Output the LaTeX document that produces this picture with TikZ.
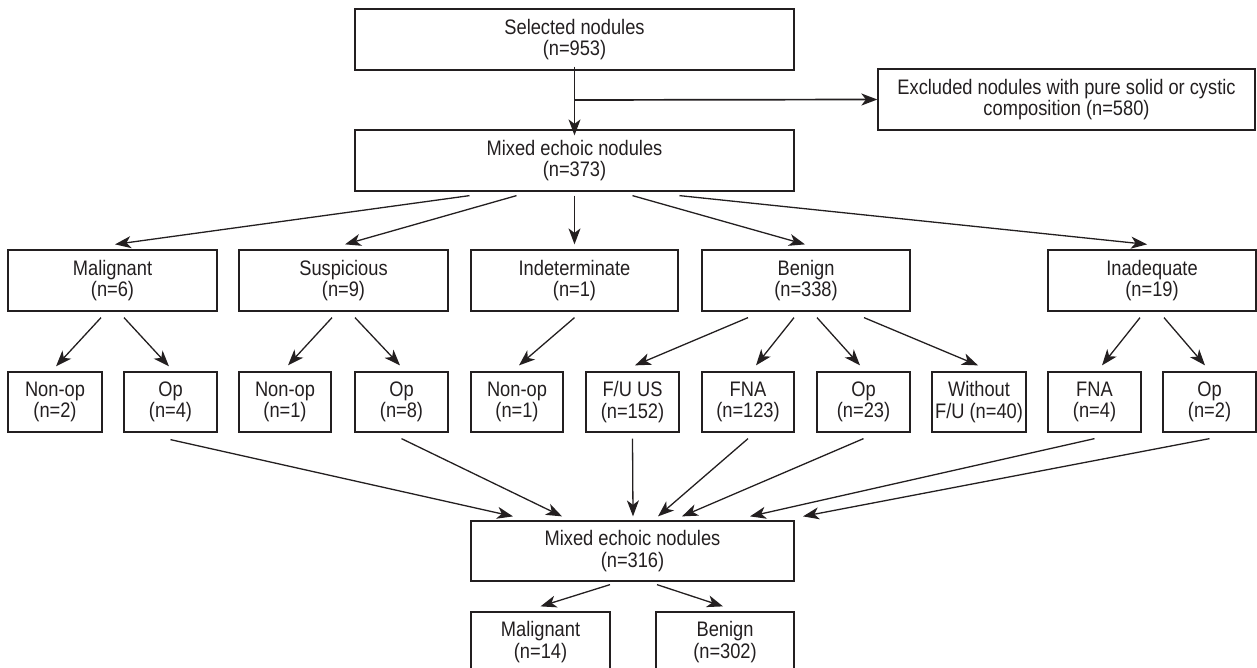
\documentclass[tikz,border=0pt]{standalone}
\usepackage{fontspec}
\setmainfont{Liberation Sans}[FakeStretch=0.87]
\usetikzlibrary{arrows.meta,calc}
\definecolor{ink}{RGB}{35,31,32}
\begin{document}
\begin{tikzpicture}[x=1pt,y=-1pt,
  box/.style={draw=ink,line width=1.25pt,text=ink,align=center,inner sep=0pt,
    font=\fontsize{21}{21.5}\selectfont},
  arr/.style={draw=ink,line width=1.3pt,-{Stealth[length=16pt,width=12pt,inset=4.5pt]}}]
\useasboundingbox (0,0) rectangle (1257,668);
\clip (0,0) rectangle (1257,668);
% level 1
\node[box,minimum width=439pt,minimum height=61pt] (sel) at (574.5,39.5) {Selected nodules\\(n=953)};
\node[box,minimum width=439pt,minimum height=61pt] (mix) at (574.5,160.5) {Mixed echoic nodules\\(n=373)};
\node[box,minimum width=377pt,minimum height=61pt] (exc) at (1066.5,99.5) {Excluded nodules with pure solid or cystic\\composition (n=580)};
% level 2
\node[box,minimum width=209pt,minimum height=61pt] (mal) at (112.5,280.5) {Malignant\\(n=6)};
\node[box,minimum width=209pt,minimum height=61pt] (sus) at (343.5,280.5) {Suspicious\\(n=9)};
\node[box,minimum width=207pt,minimum height=61pt] (ind) at (574.5,280.5) {Indeterminate\\(n=1)};
\node[box,minimum width=208pt,minimum height=61pt] (ben) at (806,280.5) {Benign\\(n=338)};
\node[box,minimum width=208pt,minimum height=61pt] (ina) at (1152,280.5) {Inadequate\\(n=19)};
% level 3
\node[box,minimum width=94pt,minimum height=60pt] (mnop) at (55,402) {Non-op\\(n=2)};
\node[box,minimum width=93pt,minimum height=60pt] (mop) at (170.5,402) {Op\\(n=4)};
\node[box,minimum width=92pt,minimum height=60pt] (snop) at (285,402) {Non-op\\(n=1)};
\node[box,minimum width=93pt,minimum height=60pt] (sop) at (401.5,402) {Op\\(n=8)};
\node[box,minimum width=92pt,minimum height=60pt] (inop) at (517,402) {Non-op\\(n=1)};
\node[box,minimum width=93pt,minimum height=60pt] (fu) at (632.5,402) {F/U US\\(n=152)};
\node[box,minimum width=92pt,minimum height=60pt] (fna) at (748,402) {FNA\\(n=123)};
\node[box,minimum width=93pt,minimum height=60pt] (bop) at (863.5,402) {Op\\(n=23)};
\node[box,minimum width=94pt,minimum height=60pt] (wo) at (979,402) {Without\\F/U (n=40)};
\node[box,minimum width=93pt,minimum height=60pt] (ifna) at (1094.5,402) {FNA\\(n=4)};
\node[box,minimum width=93pt,minimum height=60pt] (iop) at (1209.5,402) {Op\\(n=2)};
% level 4
\node[box,minimum width=323pt,minimum height=60pt] (tot) at (632.5,551) {Mixed echoic nodules\\(n=316)};
% level 5
\node[box,minimum width=139pt,minimum height=60pt] (fmal) at (540.5,642) {Malignant\\(n=14)};
\node[box,minimum width=138pt,minimum height=60pt] (fben) at (725,642) {Benign\\(n=302)};
% connectors level 1
\draw[arr] ([yshift=4pt]sel.south) -- ([yshift=-6pt]mix.north);
\draw[arr,line width=1.7pt] ($(sel.south)!.5!(mix.north)$) -- (exc.west);
% level 1 -> 2
\draw[arr] ([shift={(-105,4)}]mix.south) -- ([shift={(2.5,-5)}]mal.north);
\draw[arr] ([shift={(-58,4)}]mix.south) -- ([shift={(1.5,-5)}]sus.north);
\draw[arr] ([shift={(0,4)}]mix.south) -- ([shift={(0,-5)}]ind.north);
\draw[arr] ([shift={(58,4)}]mix.south) -- ([shift={(-1,-5)}]ben.north);
\draw[arr] ([shift={(105,4)}]mix.south) -- ([shift={(-5,-5)}]ina.north);
% level 2 -> 3
\draw[arr] ([shift={(-11.5,6)}]mal.south) -- ([shift={(1,-5)}]mnop.north);
\draw[arr] ([shift={(11.5,6)}]mal.south) -- ([shift={(-1.5,-5)}]mop.north);
\draw[arr] ([shift={(-11.5,6)}]sus.south) -- ([shift={(3,-6)}]snop.north);
\draw[arr] ([shift={(11.5,6)}]sus.south) -- ([shift={(-1.5,-6)}]sop.north);
\draw[arr] ([shift={(0,6)}]ind.south) -- ([shift={(2,-6)}]inop.north);
\draw[arr] ([shift={(-58,6)}]ben.south) -- ([shift={(2.5,-6)}]fu.north);
\draw[arr] ([shift={(-12,6)}]ben.south) -- ([shift={(8,-6)}]fna.north);
\draw[arr] ([shift={(11,6)}]ben.south) -- ([shift={(-3.5,-6)}]bop.north);
\draw[arr] ([shift={(58,6)}]ben.south) -- ([shift={(-1,-6)}]wo.north);
\draw[arr] ([shift={(-12,6)}]ina.south) -- ([shift={(7.5,-6)}]ifna.north);
\draw[arr] ([shift={(12,6)}]ina.south) -- ([shift={(-4.5,-6)}]iop.north);
% level 3 -> 4
\draw[arr] ([shift={(0,7)}]mop.south) -- ([shift={(-119.5,-4)}]tot.north);
\draw[arr] ([shift={(0,6)}]sop.south) -- ([shift={(-70.5,-4)}]tot.north);
\draw[arr] ([shift={(0,6)}]fu.south) -- ([shift={(0.5,-4)}]tot.north);
\draw[arr] ([shift={(0,6)}]fna.south) -- ([shift={(25.5,-4)}]tot.north);
\draw[arr] ([shift={(0,6)}]bop.south) -- ([shift={(49.5,-4)}]tot.north);
\draw[arr] ([shift={(0,6)}]ifna.south) -- ([shift={(117.5,-4)}]tot.north);
\draw[arr] ([shift={(0,6)}]iop.south) -- ([shift={(170.5,-4)}]tot.north);
% level 4 -> 5
\draw[arr] ([shift={(-22.5,3)}]tot.south) -- ([shift={(0,-5)}]fmal.north);
\draw[arr] ([shift={(24.5,3)}]tot.south) -- ([shift={(-2,-5)}]fben.north);
\end{tikzpicture}
\end{document}
